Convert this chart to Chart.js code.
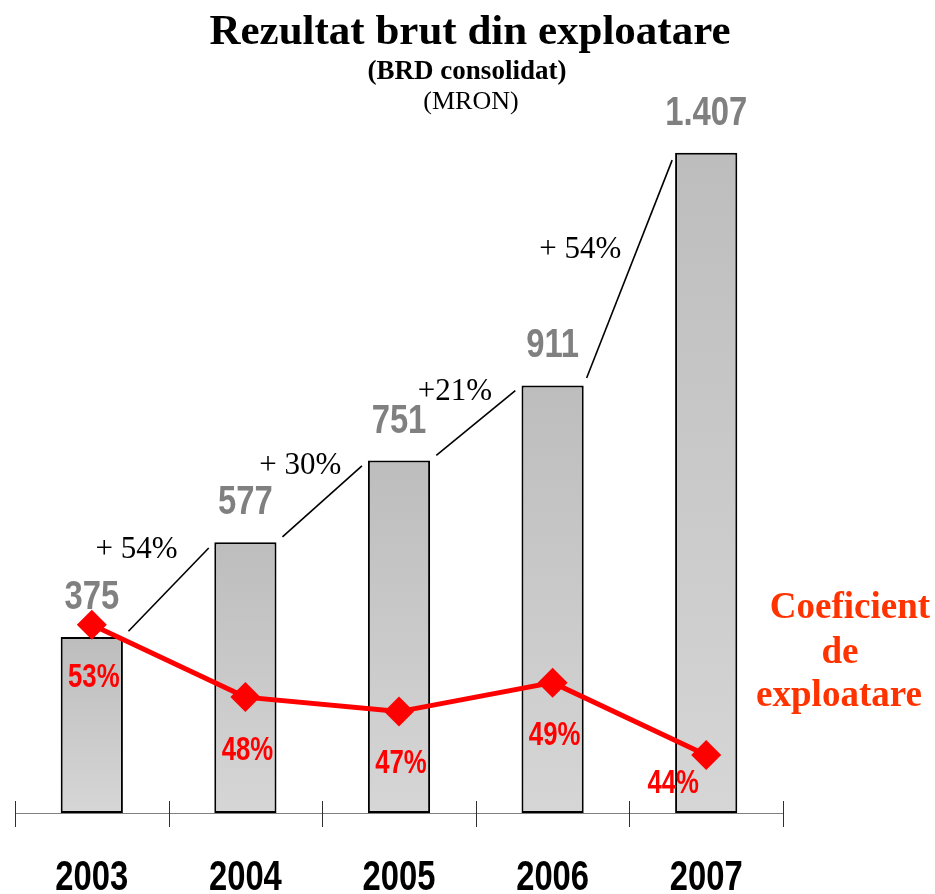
<!DOCTYPE html>
<html>
<head>
<meta charset="utf-8">
<script src="https://cdn.jsdelivr.net/npm/chart.js@4.4.1/dist/chart.umd.min.js"></script>
<style>
  body { margin: 0; background: #fff; }
  #wrap { width: 935px; height: 894px; }
</style>
</head>
<body>
<div id="wrap"><canvas id="chart" width="935" height="894"></canvas></div>
<script>
// date
var years = ["2003", "2004", "2005", "2006", "2007"];
var rezultat = [375, 577, 751, 911, 1407];          // MRON
var rezultatText = ["375", "577", "751", "911", "1.407"];
var coeficient = [53, 48, 47, 49, 44];               // %
var cresteri = ["+ 54%", "+ 30%", "+21%", "+ 54%"];

// pozitii etichete (offset fata de punct / conector)
var pctOffset = [[2, 62], [2, 63], [2, 61], [2, 62], [-33, 38]];
var growthOffset = [[-32, -32], [-22, -27], [-21, -23], [-49, -11]];

function txt(ctx, s, x, y, font, color, sx) {
  ctx.save();
  ctx.translate(x, y);
  ctx.scale(sx || 1, 1);
  ctx.font = font;
  ctx.fillStyle = color;
  ctx.textAlign = "center";
  ctx.textBaseline = "alphabetic";
  ctx.fillText(s, 0, 0);
  ctx.restore();
}

var decor = {
  id: "decor",
  beforeDatasetsDraw: function (chart) {
    var ctx = chart.ctx, ca = chart.chartArea, x = chart.scales.x;
    ctx.save();
    // axa orizontala
    ctx.strokeStyle = "#808080";
    ctx.lineWidth = 1;
    ctx.beginPath();
    ctx.moveTo(ca.left, ca.bottom + 0.5);
    ctx.lineTo(ca.right, ca.bottom + 0.5);
    ctx.stroke();
    // gradatii intre categorii
    ctx.strokeStyle = "#303030";
    var bounds = [ca.left];
    for (var i = 1; i < years.length; i++) {
      bounds.push((x.getPixelForValue(i - 1) + x.getPixelForValue(i)) / 2);
    }
    bounds.push(ca.right);
    for (var j = 0; j < bounds.length; j++) {
      var bx = Math.round(bounds[j]) + 0.5;
      ctx.beginPath();
      ctx.moveTo(bx, ca.bottom - 12);
      ctx.lineTo(bx, ca.bottom + 14);
      ctx.stroke();
    }
    ctx.restore();
  },
  afterDatasetsDraw: function (chart) {
    var ctx = chart.ctx, ca = chart.chartArea;
    var bars = chart.getDatasetMeta(1).data;
    var pts = chart.getDatasetMeta(0).data;

    // conectori intre bare + cresteri
    ctx.save();
    ctx.strokeStyle = "#000";
    ctx.lineWidth = 1.6;
    for (var i = 0; i < bars.length - 1; i++) {
      var a = bars[i], b = bars[i + 1];
      var x1 = a.x + a.width / 2, y1 = a.y;
      var x2 = b.x - b.width / 2, y2 = b.y;
      var dx = x2 - x1, dy = y2 - y1, len = Math.sqrt(dx * dx + dy * dy);
      var ux = dx / len, uy = dy / len;
      ctx.beginPath();
      ctx.moveTo(x1 + ux * 8, y1 + uy * 8);
      ctx.lineTo(x2 - ux * 8, y2 - uy * 8);
      ctx.stroke();
      var mx = (x1 + x2) / 2, my = (y1 + y2) / 2;
      txt(ctx, cresteri[i], mx + growthOffset[i][0], my + growthOffset[i][1],
        "31px 'Liberation Serif', 'Times New Roman', serif", "#000", 1);
    }
    ctx.restore();

    // valori bare
    for (var k = 0; k < bars.length; k++) {
      txt(ctx, rezultatText[k], bars[k].x, bars[k].y - 28,
        "bold 40px 'Liberation Sans', Arial, sans-serif", "#808080", 0.82);
    }
    // procente coeficient
    for (var p = 0; p < pts.length; p++) {
      txt(ctx, coeficient[p] + "%", pts[p].x + pctOffset[p][0], pts[p].y + pctOffset[p][1],
        "bold 33px 'Liberation Sans', Arial, sans-serif", "#ff0000", 0.78);
    }
    // ani sub axa
    var xs = chart.scales.x;
    for (var n = 0; n < years.length; n++) {
      txt(ctx, years[n], xs.getPixelForValue(n), ca.bottom + 77,
        "bold 42px 'Liberation Sans', Arial, sans-serif", "#000", 0.78);
    }

    // titluri
    txt(ctx, "Rezultat brut din exploatare", 470, 44, "bold 43px 'Liberation Serif', 'Times New Roman', serif", "#000", 1);
    txt(ctx, "(BRD consolidat)", 467, 79, "bold 27px 'Liberation Serif', 'Times New Roman', serif", "#000", 1);
    txt(ctx, "(MRON)", 471, 109, "26px 'Liberation Serif', 'Times New Roman', serif", "#000", 1);

    // legenda coeficient
    var lf = "bold 37px 'Liberation Serif', 'Times New Roman', serif";
    txt(ctx, "Coeficient", 850, 618, lf, "#ff3300", 1);
    txt(ctx, "de", 840, 663, lf, "#ff3300", 1);
    txt(ctx, "exploatare", 839, 706, lf, "#ff3300", 1);
  }
};

var ctx = document.getElementById("chart").getContext("2d");
var chart = new Chart(ctx, {
  data: {
    labels: years,
    datasets: [
      {
        type: "line",
        label: "Coeficient de exploatare",
        data: coeficient,
        yAxisID: "y2",
        order: 0,
        borderColor: "#ff0000",
        borderWidth: 5,
        tension: 0,
        pointStyle: "rectRot",
        pointRadius: 15,
        pointBackgroundColor: "#ff0000",
        pointBorderColor: "#ff0000",
        pointBorderWidth: 0
      },
      {
        type: "bar",
        label: "Rezultat brut din exploatare",
        data: rezultat,
        yAxisID: "y",
        order: 1,
        barPercentage: 0.405,
        categoryPercentage: 1,
        borderColor: "#000",
        borderWidth: 2,
        borderSkipped: false,
        backgroundColor: function (c) {
          var ch = c.chart, ca = ch.chartArea;
          if (!ca || c.raw === undefined) return "#c8c8c8";
          var top = ch.scales.y.getPixelForValue(c.raw);
          var g = ch.ctx.createLinearGradient(0, top, 0, ca.bottom);
          g.addColorStop(0, "#bdbdbd");
          g.addColorStop(1, "#d6d6d6");
          return g;
        }
      }
    ]
  },
  options: {
    responsive: false,
    animation: false,
    layout: { padding: { left: 15, right: 152, top: 109, bottom: 81 } },
    plugins: {
      legend: { display: false },
      tooltip: { enabled: false },
      title: { display: false }
    },
    scales: {
      x: { display: false, offset: true, grid: { offset: true } },
      y: { display: false, min: 0, max: 1500 },
      y2: { display: false, min: 40, max: 88.6, position: "right" }
    }
  },
  plugins: [decor]
});
</script>
</body>
</html>
